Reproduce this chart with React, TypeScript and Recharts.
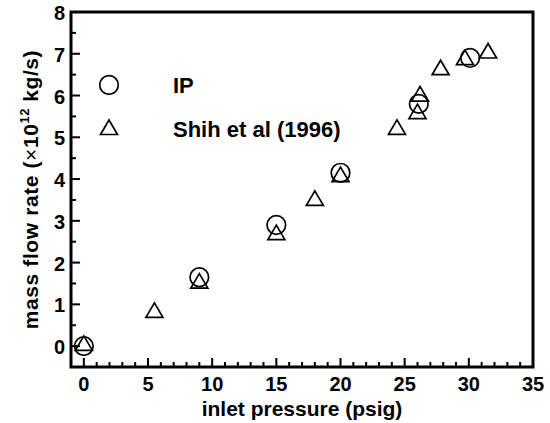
import React from "react";
import {
  ScatterChart, Scatter, XAxis, YAxis, Legend, ReferenceArea,
} from "recharts";

// IP simulation
const ipPressure = [0, 9, 15, 20, 26.1, 30.1];
const ipFlow = [0, 1.65, 2.9, 4.15, 5.8, 6.9];

// Shih et al (1996) measurements
const shihPressure = [0, 5.5, 9, 15, 18, 20, 24.4, 26, 26.2, 27.8, 29.7, 31.5];
const shihFlow = [0.03, 0.82, 1.52, 2.68, 3.5, 4.07, 5.2, 5.58, 6.0, 6.63, 6.87, 7.03];

const xTicks = [0, 1, 2, 3, 4, 5, 6, 7, 8, 9, 10, 11, 12, 13, 14, 15, 16, 17, 18, 19, 20,
  21, 22, 23, 24, 25, 26, 27, 28, 29, 30, 31, 32, 33, 34, 35];
const xLabels = [0, 5, 10, 15, 20, 25, 30, 35];
const yTicks = [0, 0.5, 1, 1.5, 2, 2.5, 3, 3.5, 4, 4.5, 5, 5.5, 6, 6.5, 7, 7.5, 8];
const yLabels = [0, 1, 2, 3, 4, 5, 6, 7, 8];

const ipData = ipPressure.map((x, i) => ({ x, y: ipFlow[i] }));
const shihData = shihPressure.map((x, i) => ({ x, y: shihFlow[i] }));

const FONT = "'Liberation Sans', Arial, sans-serif";

const CircleShape = (props: any) => (
  <circle cx={props.cx} cy={props.cy} r={9.3} fill="none" stroke="#000" strokeWidth={1.7} />
);

const TriangleShape = (props: any) => {
  const { cx, cy } = props;
  const pts = `${cx},${cy - 9} ${cx - 8.5},${cy + 5.5} ${cx + 8.5},${cy + 5.5}`;
  return <polygon points={pts} fill="none" stroke="#000" strokeWidth={1.7} />;
};

const XTick = (props: any) => {
  const { x, y, payload } = props;
  const major = xLabels.includes(payload.value);
  return (
    <g>
      <line x1={x} x2={x} y1={y} y2={y - (major ? 9 : 5)} stroke="#000" strokeWidth={2} />
      {major && (
        <text x={x} y={y + 24} textAnchor="middle" fontFamily={FONT} fontWeight="bold" fontSize={20} fill="#000">
          {payload.value}
        </text>
      )}
    </g>
  );
};

const YTick = (props: any) => {
  const { x, y, payload } = props;
  const major = yLabels.includes(payload.value);
  return (
    <g>
      <line x1={x} x2={x + (major ? 9 : 5)} y1={y} y2={y} stroke="#000" strokeWidth={2} />
      {major && (
        <text x={x - 6} y={y + 8} textAnchor="end" fontFamily={FONT} fontWeight="bold" fontSize={20} fill="#000">
          {payload.value}
        </text>
      )}
    </g>
  );
};

const YLabel = (props: any) => {
  const { viewBox } = props;
  const cx = viewBox.x + 38;
  const cy = viewBox.y + viewBox.height / 2;
  return (
    <text x={cx} y={cy} transform={`rotate(-90 ${cx} ${cy})`} textAnchor="middle"
      fontFamily={FONT} fontWeight="bold" fontSize={21} letterSpacing={0.6} fill="#000">
      <tspan>mass flow rate (</tspan>
      <tspan fontWeight="normal">×</tspan>
      <tspan>10</tspan>
      <tspan fontSize={13} dy={-9}>12</tspan>
      <tspan dy={9} dx={6}>kg/s)</tspan>
    </text>
  );
};

const XLabel = (props: any) => {
  const { viewBox } = props;
  return (
    <text x={viewBox.x + viewBox.width / 2} y={viewBox.y + 49} textAnchor="middle"
      fontFamily={FONT} fontWeight="bold" fontSize={21} fill="#000">
      inlet pressure (psig)
    </text>
  );
};

const LegendBox = (props: any) => {
  const { payload } = props;
  return (
    <svg width={300} height={80}>
      {(payload || []).map((entry: any, i: number) => {
        const cy = 15 + i * 44;
        return (
          <g key={entry.value}>
            {i === 0 ? <CircleShape cx={14} cy={cy} /> : <TriangleShape cx={14} cy={cy} />}
            <text x={78} y={cy + 8} fontFamily={FONT} fontWeight="bold" fontSize={22} fill="#000">
              {entry.value}
            </text>
          </g>
        );
      })}
    </svg>
  );
};

export default function App() {
  return (
    <div style={{ position: "absolute", left: 0, top: 0, background: "#fff" }}>
      <ScatterChart width={550} height={423} margin={{ top: 12, right: 17, bottom: 0, left: 0 }}>
        <XAxis
          dataKey="x" type="number" domain={[-1, 35]} ticks={xTicks}
          interval={0} height={56} tickSize={0} tickMargin={0} tick={<XTick />}
          axisLine={false} tickLine={false}
          label={{ content: <XLabel /> }}
        />
        <YAxis
          dataKey="y" type="number" domain={[-0.5, 8]} ticks={yTicks}
          interval={0} width={71} tickSize={0} tickMargin={0} tick={<YTick />}
          axisLine={false} tickLine={false}
          label={{ content: <YLabel /> }}
        />
        <ReferenceArea x1={-1} x2={35} y1={-0.5} y2={8} fill="none" stroke="#000"
          strokeWidth={3} fillOpacity={0} strokeOpacity={1} />
        <Legend
          layout="vertical" verticalAlign="middle" align="center" content={<LegendBox />}
          wrapperStyle={{ left: 95, top: 70, width: 300 }}
        />
        <Scatter name="IP" data={ipData} shape={<CircleShape />} isAnimationActive={false} />
        <Scatter name="Shih et al (1996)" data={shihData} shape={<TriangleShape />} isAnimationActive={false} />
      </ScatterChart>
    </div>
  );
}
